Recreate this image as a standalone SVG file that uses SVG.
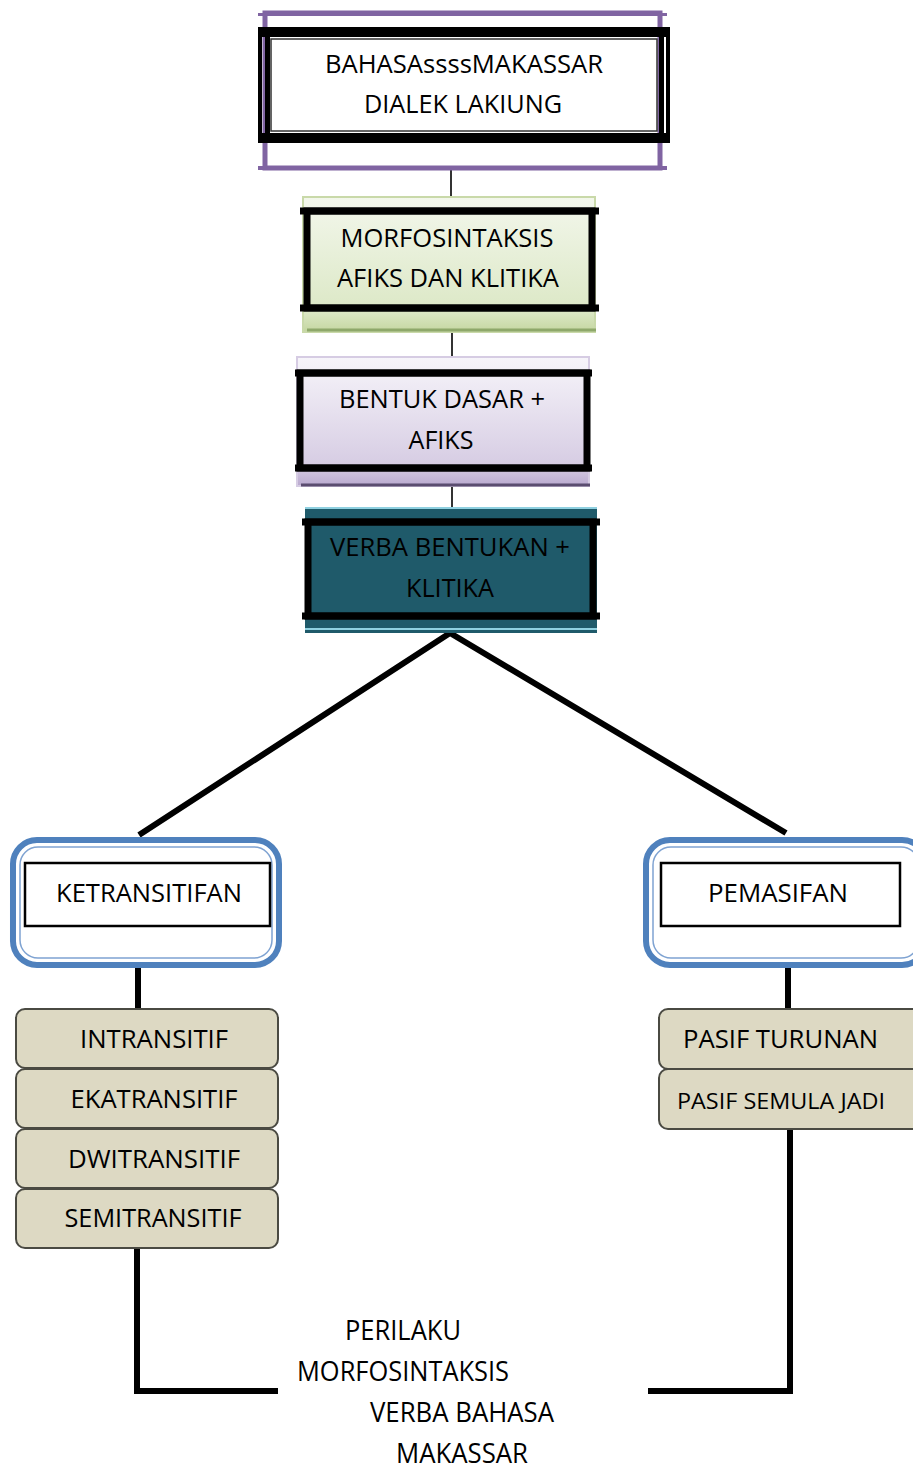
<svg xmlns="http://www.w3.org/2000/svg" width="913" height="1470" viewBox="0 0 913 1470">
<style>
text{font-family:"Open Sans","Noto Sans","Liberation Sans",sans-serif;font-size:25px;fill:#000;}
.frame{fill:none;stroke:#000;stroke-width:7;}
.conn{fill:none;stroke:#000;stroke-width:6;}
.thin{fill:none;stroke:#333;stroke-width:2;}
.item{fill:#ddd9c3;stroke:#4a4a42;stroke-width:2;}
.blue{fill:#fff;stroke:#4f81bd;stroke-width:6;}
.blueIn{fill:none;stroke:#7fa3d2;stroke-width:1.5;}
.inner{fill:#fff;stroke:#000;stroke-width:2.5;}
.btm{font-size:27px;}
</style>
<defs>
<linearGradient id="gGreen" x1="0" y1="0" x2="0" y2="1">
<stop offset="0" stop-color="#f3f7ec"/><stop offset="0.85" stop-color="#dce8c6"/><stop offset="1" stop-color="#c4d6a0"/>
</linearGradient>
<linearGradient id="gLav" x1="0" y1="0" x2="0" y2="1">
<stop offset="0" stop-color="#f7f5fa"/><stop offset="0.85" stop-color="#d6cce3"/><stop offset="1" stop-color="#b9a9cf"/>
</linearGradient>
</defs>

<g id="connectors">
<line class="thin" x1="451" y1="168" x2="451" y2="197"/>
<line class="thin" x1="452" y1="332" x2="452" y2="357"/>
<line class="thin" x1="452" y1="486" x2="452" y2="508"/>
<polyline class="conn" points="139,835 450,633 786,833"/>
<line class="conn" x1="138" y1="968" x2="138" y2="1009"/>
<line class="conn" x1="788" y1="968" x2="788" y2="1009"/>
<polyline class="conn" points="137,1248 137,1391 278,1391"/>
<polyline class="conn" points="790,1129 790,1391 648,1391"/>
</g>

<g id="node-bahasa">
<rect x="265" y="13" width="395" height="155" fill="#fff" stroke="#8064a2" stroke-width="5"/>
<rect x="258" y="13" width="409" height="3" fill="#8064a2"/>
<rect x="258" y="166" width="409" height="4" fill="#8064a2"/>
<rect x="258" y="27" width="412" height="10" fill="#000"/>
<rect x="258" y="133" width="412" height="10" fill="#000"/>
<rect x="258" y="27" width="4" height="116" fill="#000"/>
<rect x="265" y="27" width="5" height="116" fill="#000"/>
<rect x="659" y="27" width="5" height="116" fill="#000"/>
<rect x="666" y="27" width="4" height="116" fill="#000"/>
<rect x="271" y="39" width="386" height="92" fill="#fff" stroke="#333" stroke-width="1.5"/>
<text x="464" y="73" text-anchor="middle" textLength="278" lengthAdjust="spacingAndGlyphs">BAHASAssssMAKASSAR</text>
<text x="463" y="113" text-anchor="middle" textLength="198" lengthAdjust="spacingAndGlyphs">DIALEK LAKIUNG</text>
</g>

<g id="node-morfosintaksis">
<rect x="303" y="197" width="292" height="135" fill="url(#gGreen)" stroke="#c9d9a9" stroke-width="2"/>
<line x1="307" y1="330" x2="596" y2="330" stroke="#8ea86a" stroke-width="3"/>
<rect x="307" y="211" width="285" height="97" class="frame"/>
<line x1="300" y1="211" x2="599" y2="211" stroke="#000" stroke-width="7"/>
<line x1="300" y1="308" x2="599" y2="308" stroke="#000" stroke-width="7"/>
<text x="447" y="247" text-anchor="middle" textLength="213" lengthAdjust="spacingAndGlyphs">MORFOSINTAKSIS</text>
<text x="448" y="287" text-anchor="middle" textLength="222" lengthAdjust="spacingAndGlyphs">AFIKS DAN KLITIKA</text>
</g>

<g id="node-bentuk">
<rect x="297" y="357" width="292" height="129" fill="url(#gLav)" stroke="#d6cce3" stroke-width="2"/>
<line x1="301" y1="485" x2="590" y2="485" stroke="#5b4d70" stroke-width="3"/>
<rect x="300" y="373" width="287" height="95" class="frame"/>
<line x1="295" y1="373" x2="592" y2="373" stroke="#000" stroke-width="7"/>
<line x1="295" y1="468" x2="592" y2="468" stroke="#000" stroke-width="7"/>
<text x="442" y="408" text-anchor="middle" textLength="206" lengthAdjust="spacingAndGlyphs">BENTUK DASAR +</text>
<text x="441" y="449" text-anchor="middle" textLength="65" lengthAdjust="spacingAndGlyphs">AFIKS</text>
</g>

<g id="node-verba">
<rect x="305" y="507" width="292" height="126" fill="#1f5a6a"/>
<line x1="305" y1="508" x2="597" y2="508" stroke="#8fd0e0" stroke-width="2"/>
<line x1="305" y1="629" x2="597" y2="629" stroke="#8fd0e0" stroke-width="2"/>
<rect x="308" y="522" width="285" height="94" class="frame"/>
<line x1="302" y1="522" x2="600" y2="522" stroke="#000" stroke-width="7"/>
<line x1="302" y1="616" x2="600" y2="616" stroke="#000" stroke-width="7"/>
<text x="450" y="556" text-anchor="middle" textLength="240" lengthAdjust="spacingAndGlyphs">VERBA BENTUKAN +</text>
<text x="450" y="597" text-anchor="middle" textLength="88" lengthAdjust="spacingAndGlyphs">KLITIKA</text>
</g>

<g id="node-ketransitifan">
<rect x="13" y="840" width="266" height="125" rx="24" class="blue"/>
<rect x="20" y="847" width="252" height="111" rx="18" class="blueIn"/>
<rect x="25" y="863" width="245" height="63" class="inner"/>
<text x="149" y="902" text-anchor="middle" textLength="186" lengthAdjust="spacingAndGlyphs">KETRANSITIFAN</text>
</g>

<g id="node-pemasifan">
<rect x="646" y="840" width="280" height="125" rx="24" class="blue"/>
<rect x="653" y="847" width="266" height="111" rx="18" class="blueIn"/>
<rect x="661" y="863" width="239" height="63" class="inner"/>
<text x="778" y="902" text-anchor="middle" textLength="140" lengthAdjust="spacingAndGlyphs">PEMASIFAN</text>
</g>

<g id="node-intransitif">
<rect x="16" y="1009" width="262" height="59" rx="9" class="item"/>
<text x="154" y="1048" text-anchor="middle" textLength="148" lengthAdjust="spacingAndGlyphs">INTRANSITIF</text>
</g>
<g id="node-ekatransitif">
<rect x="16" y="1069" width="262" height="59" rx="9" class="item"/>
<text x="154" y="1108" text-anchor="middle" textLength="167" lengthAdjust="spacingAndGlyphs">EKATRANSITIF</text>
</g>
<g id="node-dwitransitif">
<rect x="16" y="1129" width="262" height="59" rx="9" class="item"/>
<text x="154" y="1168" text-anchor="middle" textLength="172" lengthAdjust="spacingAndGlyphs">DWITRANSITIF</text>
</g>
<g id="node-semitransitif">
<rect x="16" y="1189" width="262" height="59" rx="9" class="item"/>
<text x="153" y="1227" text-anchor="middle" textLength="177" lengthAdjust="spacingAndGlyphs">SEMITRANSITIF</text>
</g>

<g id="node-pasif-turunan">
<rect x="659" y="1009" width="270" height="60" rx="9" class="item"/>
<text x="683" y="1048" textLength="195" lengthAdjust="spacingAndGlyphs">PASIF TURUNAN</text>
</g>
<g id="node-pasif-semula">
<rect x="659" y="1069" width="270" height="60" rx="9" class="item"/>
<text x="677" y="1109" style="font-size:22px" textLength="208" lengthAdjust="spacingAndGlyphs">PASIF SEMULA JADI</text>
</g>

<g id="node-perilaku">
<text class="btm" x="403" y="1340" text-anchor="middle" textLength="116" lengthAdjust="spacingAndGlyphs">PERILAKU</text>
<text class="btm" x="403" y="1381" text-anchor="middle" textLength="212" lengthAdjust="spacingAndGlyphs">MORFOSINTAKSIS</text>
<text class="btm" x="462" y="1422" text-anchor="middle" textLength="184" lengthAdjust="spacingAndGlyphs">VERBA BAHASA</text>
<text class="btm" x="462" y="1463" text-anchor="middle" textLength="132" lengthAdjust="spacingAndGlyphs">MAKASSAR</text>
</g>
</svg>
